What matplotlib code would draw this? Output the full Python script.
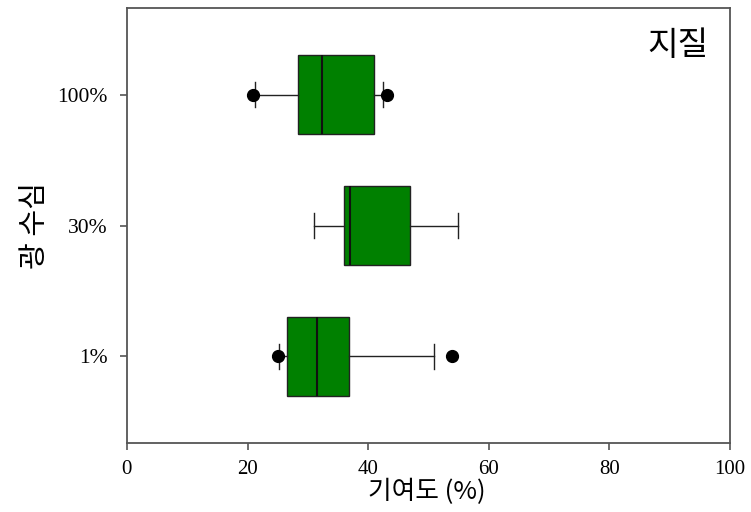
import matplotlib
matplotlib.use("Agg")
import matplotlib.pyplot as plt

# depth groups (bottom to top)
depths = ["1%", "30%", "100%"]
# box stats
whis_lo = [25.3, 31.0, 21.2]
q1 = [26.5, 36.0, 28.4]
med = [31.6, 37.0, 32.4]
q3 = [36.8, 46.9, 41.0]
whis_hi = [51.0, 54.9, 42.4]
fliers = [[25.0, 53.9], [], [20.9, 43.1]]

xticks = [0, 20, 40, 60, 80, 100]

kor = ["Noto Sans CJK KR", "DejaVu Sans"]
serif = "Liberation Serif"

stats = []
for i, lab in enumerate(depths):
    stats.append({"label": lab, "whislo": whis_lo[i], "q1": q1[i], "med": med[i],
                  "q3": q3[i], "whishi": whis_hi[i], "fliers": fliers[i]})

fig = plt.figure(figsize=(7.51, 5.12), dpi=100)
ax = fig.add_axes([0.169, 0.135, 0.803, 0.849])

ax.bxp(stats, positions=[1, 2, 3], vert=False, widths=0.6, capwidths=0.19,
       patch_artist=True,
       boxprops=dict(facecolor="#008000", edgecolor="#222222", linewidth=1.0),
       medianprops=dict(color="#111111", linewidth=1.5),
       whiskerprops=dict(color="#222222", linewidth=1.0),
       capprops=dict(color="#222222", linewidth=1.0),
       flierprops=dict(marker="o", markerfacecolor="black", markeredgecolor="black",
                       markersize=8.5))

ax.set_xlim(0, 100)
ax.set_ylim(0.34, 3.66)
ax.set_xticks(xticks)
ax.set_xticklabels([str(t) for t in xticks], fontfamily=serif, fontsize=15)
ax.set_yticks([1, 2, 3])
ax.set_yticklabels(depths, fontfamily=serif, fontsize=15.5)

for sp in ax.spines.values():
    sp.set_color("#555555")
    sp.set_linewidth(1.3)
ax.tick_params(colors="#555555", labelcolor="black", length=5, width=1.2)
ax.tick_params(axis="y", pad=9)
ax.tick_params(axis="x", pad=7)

ax.set_xlabel("기여도 (%)", family=kor, fontsize=18.5)
ax.xaxis.set_label_coords(0.497, -0.083)
ax.set_ylabel("광 수심", family=kor, fontsize=21)
ax.yaxis.set_label_coords(-0.128, 0.5)
ax.text(0.965, 0.955, "지질", transform=ax.transAxes, ha="right", va="top",
        family=kor, fontsize=24)

fig.savefig("out.png", dpi=100)
